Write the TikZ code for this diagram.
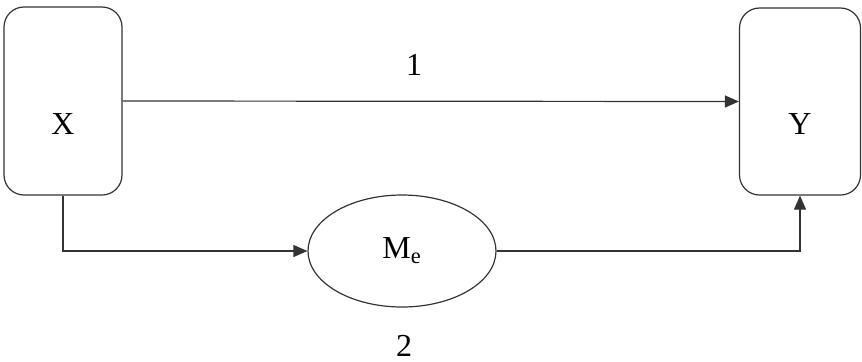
\documentclass[tikz,border=0pt]{standalone}
\usepackage{fontspec}
\setmainfont{Liberation Serif}
\usetikzlibrary{shapes.geometric, arrows.meta, positioning}
\tikzset{
  varbox/.style={rectangle, rounded corners=10pt, draw=black!80, line width=0.6pt,
                 minimum width=59pt, minimum height=94pt, text height=33pt,
                 font=\fontsize{16}{19}\selectfont},
  mediator/.style={ellipse, draw=black!80, line width=0.6pt,
                   minimum width=94pt, minimum height=56pt, font=\fontsize{16}{19}\selectfont},
  pathlbl/.style={font=\fontsize{16}{19}\selectfont, inner sep=0pt},
  arrow/.style={-{Triangle[length=7pt,width=6pt]}, line width=0.6pt, black!80},
}
\begin{document}
\begin{tikzpicture}[x=0.5pt, y=-0.5pt]
  \useasboundingbox (0,0) rectangle (862,361);

  % --- Variables ---
  \node[varbox] (xvar) at (63,101) {X};
  \node[varbox, minimum width=60.5pt, minimum height=93.5pt] (yvar) at (800,101.5) {Y};
  \node[mediator] (med) at (402,251) {M\textsubscript{e}};

  % --- Path labels ---
  \node[pathlbl] (lbl1) at (414,65) {1};
  \node[pathlbl] (lbl2) at (404,346) {2};

  % --- Arrows ---
  \draw[arrow] (xvar.east) -- (yvar.west);
  \draw[arrow] (xvar.south) |- (med.west);
  \draw[arrow] (med.east) -| (yvar.south);

\end{tikzpicture}
\end{document}
